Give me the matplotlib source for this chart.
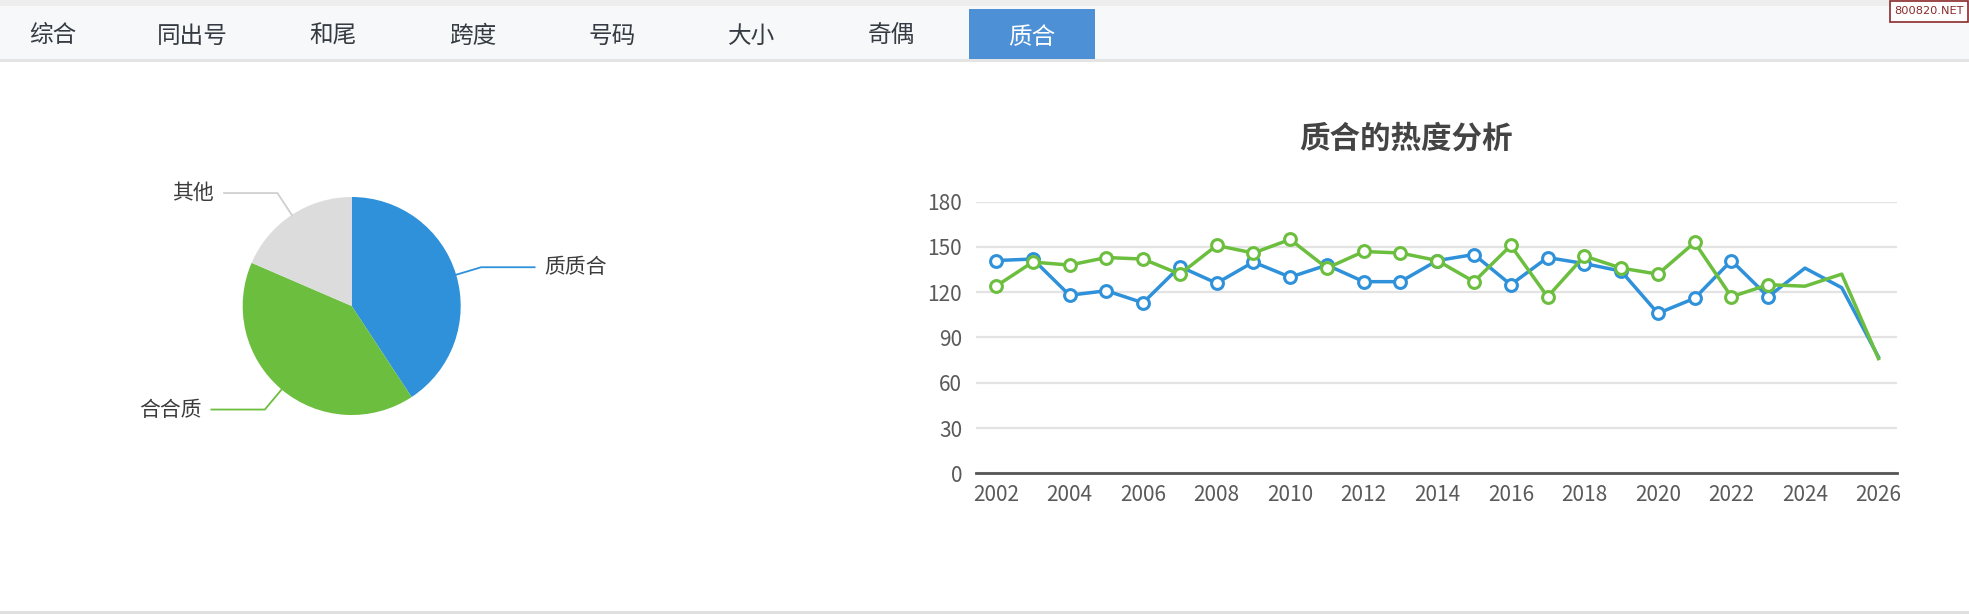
import matplotlib
matplotlib.use("Agg")
import matplotlib.pyplot as plt
from matplotlib.patches import Rectangle
import numpy as np

plt.rcParams['font.family'] = ['Noto Sans CJK SC', 'DejaVu Sans']

# ---------------- data ----------------
tabs = ["综合", "同出号", "和尾", "跨度", "号码", "大小", "奇偶", "质合"]
selected_tab = "质合"

pie_labels = ["质质合", "合合质", "其他"]
pie_values = [11, 11, 5]

chart_title = "质合的热度分析"
years = [2002, 2003, 2004, 2005, 2006, 2007, 2008, 2009, 2010, 2011, 2012, 2013,
         2014, 2015, 2016, 2017, 2018, 2019, 2020, 2021, 2022, 2023, 2024, 2025, 2026]
blue_values = [141, 142, 118, 121, 113, 137, 126, 140, 130, 138, 127, 127,
               141, 145, 125, 143, 139, 134, 106, 116, 141, 117, 136, 123, 77]
green_values = [124, 140, 138, 143, 142, 132, 151, 146, 155, 136, 147, 146,
                141, 127, 151, 117, 144, 136, 132, 153, 117, 125, 124, 132, 76]
y_ticks = [0, 30, 60, 90, 120, 150, 180]
x_ticks = [2002, 2004, 2006, 2008, 2010, 2012, 2014, 2016, 2018, 2020, 2022, 2024, 2026]

BLUE = "#2E91DA"
GREEN = "#6CBE3E"
GRAY = "#DCDCDC"

W, H = 1969, 614
fig = plt.figure(figsize=(W / 100, H / 100), dpi=100)
fig.patch.set_facecolor("white")


def px_axes(x0, y0, x1, y1, **kw):
    return fig.add_axes([x0 / W, 1 - y1 / H, (x1 - x0) / W, (y1 - y0) / H], **kw)


# ---------------- page decoration (tab bar) ----------------
bg = px_axes(0, 0, W, H)
bg.set_xlim(0, W)
bg.set_ylim(H, 0)
bg.axis("off")
bg.add_patch(Rectangle((0, 0), W, 6, facecolor="#ededed", edgecolor="none"))
bg.add_patch(Rectangle((0, 6), W, 53, facecolor="#f7f8f9", edgecolor="none"))
bg.add_patch(Rectangle((0, 59), W, 2.5, facecolor="#e4e4e4", edgecolor="none"))
bg.add_patch(Rectangle((0, 611), W, 3, facecolor="#e0e0e0", edgecolor="none"))

tab_x0 = 53
tab_step = 139.8
for i, t in enumerate(tabs):
    cx = tab_x0 + i * tab_step
    if t == selected_tab:
        bg.add_patch(Rectangle((cx - 63, 9), 126, 50, facecolor="#4D90D6", edgecolor="none"))
        bg.text(cx, 37, t, ha="center", va="center", fontsize=17, color="white")
    else:
        bg.text(cx, 36, t, ha="center", va="center", fontsize=17, color="#353b42")

# watermark
bg.add_patch(Rectangle((1890, 0.5), 78, 21, facecolor="white", edgecolor="#8a2a2a", lw=1.2))
bg.text(1929, 11.5, "800820.NET", ha="center", va="center", fontsize=8.2,
        color="#8a2a2a", family=["Liberation Sans Narrow", "DejaVu Sans"])

# ---------------- pie ----------------
cx, cy, R = 351.7, 306, 109
pax = px_axes(cx - R, cy - R, cx + R, cy + R)
pax.set_xlim(-1, 1)
pax.set_ylim(-1, 1)
pax.axis("off")
wedges, _ = pax.pie(pie_values, colors=[BLUE, GREEN, GRAY], startangle=90,
                    counterclock=False, radius=1, center=(0, 0),
                    wedgeprops=dict(linewidth=0))
pax.set_xlim(-1, 1)
pax.set_ylim(-1, 1)
for w, lab in zip(wedges, pie_labels):
    mid = np.deg2rad((w.theta1 + w.theta2) / 2)
    ux, uy = np.cos(mid), np.sin(mid)
    p0 = (ux * 1.0, uy * 1.0)
    p1 = (ux * 1.24, uy * 1.24)
    side = 1 if ux >= 0 else -1
    p2 = (p1[0] + side * 0.49, p1[1])
    lc = w.get_facecolor()
    if lab == "其他":
        lc = "#cfcfcf"
    pax.plot([p0[0], p1[0], p2[0]], [p0[1], p1[1], p2[1]], color=lc, lw=1.3,
             clip_on=False, solid_joinstyle="miter")
    pax.text(p2[0] + side * 0.09, p2[1], lab, ha="left" if side > 0 else "right",
             va="center", fontsize=15, color="#3c3c3c", clip_on=False)

# ---------------- line chart ----------------
lax = px_axes(976, 201.7, 1897, 473.3)
lax.set_xlim(2001.456, 2026.503)
lax.set_ylim(0, 180)
for s in ["top", "right", "left"]:
    lax.spines[s].set_visible(False)
lax.spines["bottom"].set_color("#555555")
lax.spines["bottom"].set_linewidth(2)
lax.set_yticks(y_ticks)
lax.set_xticks(x_ticks)
lax.set_xticklabels([str(x) for x in x_ticks])
lax.tick_params(axis="y", length=0, pad=10, labelsize=15, labelcolor="#5a5a5a")
lax.tick_params(axis="x", length=0, pad=8, labelsize=15, labelcolor="#5a5a5a")
lax.yaxis.grid(True, color="#e3e3e3", lw=1.6)
lax.set_axisbelow(True)

marked = list(range(0, 22))
lax.plot(years, blue_values, color=BLUE, lw=2.5, marker="o", markersize=8.5,
         markerfacecolor="white", markeredgecolor=BLUE, markeredgewidth=2.2,
         markevery=marked, zorder=3, clip_on=False)
lax.plot(years, green_values, color=GREEN, lw=2.5, marker="o", markersize=8.5,
         markerfacecolor="white", markeredgecolor=GREEN, markeredgewidth=2.2,
         markevery=marked, zorder=4, clip_on=False)

fig.text(1406 / W, 1 - 139 / H, chart_title, ha="center", va="center",
         fontsize=22, fontweight="bold", color="#444444")

fig.savefig("out.png", dpi=100, facecolor="white")
